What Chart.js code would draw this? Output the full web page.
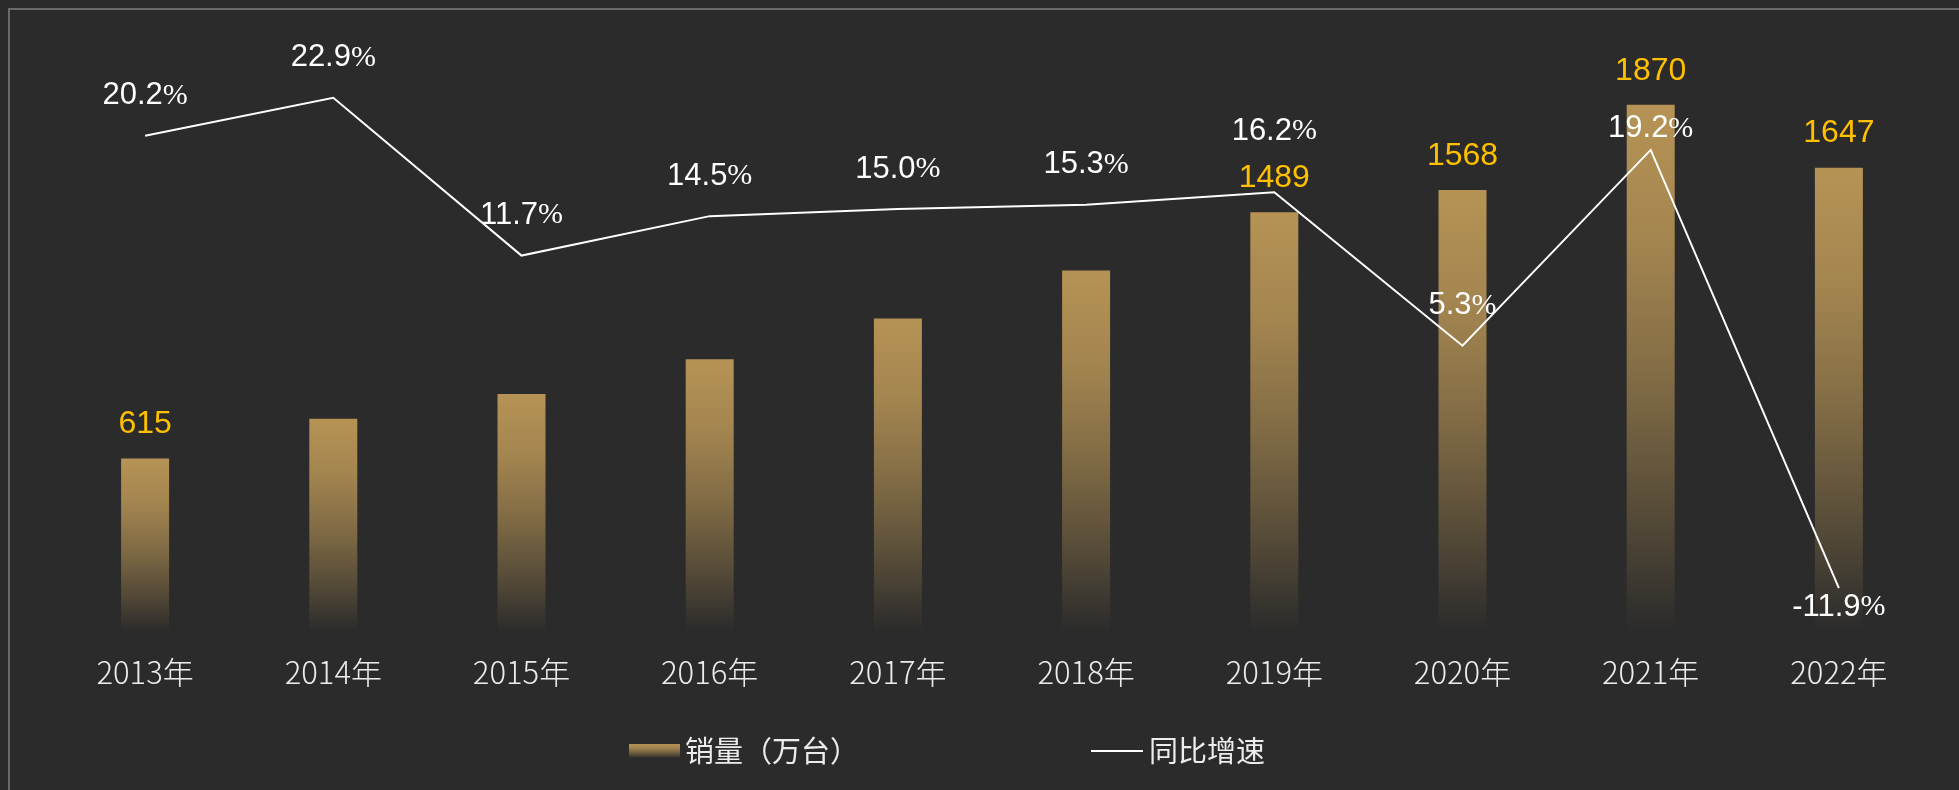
<!DOCTYPE html>
<html>
<head>
<meta charset="utf-8">
<script src="https://cdn.jsdelivr.net/npm/chart.js@4"></script>
<style>
  html, body { margin: 0; padding: 0; background: #2b2b2b; }
  canvas { display: block; }
</style>
</head>
<body>
<canvas id="myChart" width="1959" height="790"></canvas>
<script>
// chart data
var years = ['2013年', '2014年', '2015年', '2016年', '2017年', '2018年', '2019年', '2020年', '2021年', '2022年'];
var sales = [615, 756, 844, 967, 1112, 1282, 1489, 1568, 1870, 1647];
var growth = [20.2, 22.9, 11.7, 14.5, 15.0, 15.3, 16.2, 5.3, 19.2, -11.9];
var salesLabel = '销量（万台）';
var growthLabel = '同比增速';

// which bar values are written above the bars
var showSalesValue = [true, false, false, false, false, false, true, true, true, true];
// vertical shift of each growth label from its point
var growthLabelShift = [-40, -40, -40, -40, -40, -40, -61, -40, -21, 19];

function goldGradient(ctx, top, bottom) {
    var g = ctx.createLinearGradient(0, top, 0, bottom);
    g.addColorStop(0, 'rgba(182,147,85,1)');
    g.addColorStop(0.25, 'rgba(182,147,85,0.87)');
    g.addColorStop(0.5, 'rgba(182,147,85,0.64)');
    g.addColorStop(0.75, 'rgba(182,147,85,0.34)');
    g.addColorStop(1, 'rgba(182,147,85,0)');
    return g;
}

function barColor(context) {
    var chart = context.chart;
    if (!chart.chartArea || context.type !== 'data') return 'rgb(182,147,85)';
    var y = chart.scales.y;
    return goldGradient(chart.ctx, y.getPixelForValue(context.raw), y.getPixelForValue(0));
}

// background and the grey frame
var frame = {
    id: 'frame',
    beforeDraw: function (chart) {
        var c = chart.ctx;
        c.save();
        c.fillStyle = '#2b2b2b';
        c.fillRect(0, 0, chart.width, chart.height);
        c.strokeStyle = '#6a6a6a';
        c.lineWidth = 2;
        c.beginPath();
        c.moveTo(9, chart.height);
        c.lineTo(9, 9);
        c.lineTo(chart.width, 9);
        c.stroke();
        c.restore();
    }
};

// value labels
var valueLabels = {
    id: 'valueLabels',
    afterDatasetsDraw: function (chart) {
        var c = chart.ctx;
        c.save();
        c.textAlign = 'center';
        c.textBaseline = 'middle';

        var bars = chart.getDatasetMeta(0).data;
        c.fillStyle = '#ffc000';
        c.font = '32px "Liberation Sans"';
        bars.forEach(function (bar, i) {
            if (!showSalesValue[i]) return;
            c.fillText(String(sales[i]), bar.x, bar.y - 34);
        });

        // growth labels: digits in Liberation Sans, a narrower % sign
        var pts = chart.getDatasetMeta(1).data;
        c.fillStyle = '#ffffff';
        c.textAlign = 'left';
        pts.forEach(function (p, i) {
            var num = growth[i].toFixed(1);
            c.font = '31px "Liberation Sans"';
            var w1 = c.measureText(num).width;
            c.font = '30px "Liberation Sans Narrow"';
            var w2 = c.measureText('%').width;
            var x0 = p.x - (w1 + w2) / 2;
            var y = p.y + growthLabelShift[i];
            c.font = '31px "Liberation Sans"';
            c.fillText(num, x0, y);
            c.font = '30px "Liberation Sans Narrow"';
            c.fillText('%', x0 + w1, y);
        });
        c.restore();
    }
};

// legend below the axis
var bottomLegend = {
    id: 'bottomLegend',
    afterDraw: function (chart) {
        var c = chart.ctx;
        c.save();
        c.font = '29px "Noto Sans CJK SC"';
        c.textBaseline = 'middle';
        c.textAlign = 'left';

        c.fillStyle = goldGradient(c, 744, 758);
        c.fillRect(629, 744, 51, 14);
        c.fillStyle = '#ececec';
        c.fillText(chart.data.datasets[0].label, 685, 751);

        c.strokeStyle = '#ffffff';
        c.lineWidth = 2;
        c.beginPath();
        c.moveTo(1091, 751);
        c.lineTo(1143, 751);
        c.stroke();
        c.fillText(chart.data.datasets[1].label, 1149, 751);
        c.restore();
    }
};

var ctx = document.getElementById('myChart').getContext('2d');
var chart = new Chart(ctx, {
    type: 'bar',
    data: {
        labels: years,
        datasets: [{
            type: 'bar',
            label: salesLabel,
            data: sales,
            yAxisID: 'y',
            backgroundColor: barColor,
            barPercentage: 0.255,
            categoryPercentage: 1,
            order: 1
        }, {
            type: 'line',
            label: growthLabel,
            data: growth,
            yAxisID: 'y2',
            borderColor: '#ffffff',
            borderWidth: 2,
            pointRadius: 0,
            tension: 0,
            fill: false,
            order: 0
        }]
    },
    options: {
        responsive: false,
        animation: false,
        layout: { padding: { left: 51, right: 26, top: 40, bottom: 77 } },
        plugins: {
            legend: { display: false },
            tooltip: { enabled: false }
        },
        scales: {
            x: {
                grid: { display: false, drawTicks: false },
                border: { display: false },
                ticks: {
                    color: '#ececec',
                    padding: 22,
                    font: { family: '"Noto Sans CJK SC"', size: 31, weight: '300' }
                }
            },
            y: { display: false, min: 0, max: 2100 },
            y2: { display: false, min: -15, max: 27 }
        }
    },
    plugins: [frame, valueLabels, bottomLegend]
});
</script>
</body>
</html>
